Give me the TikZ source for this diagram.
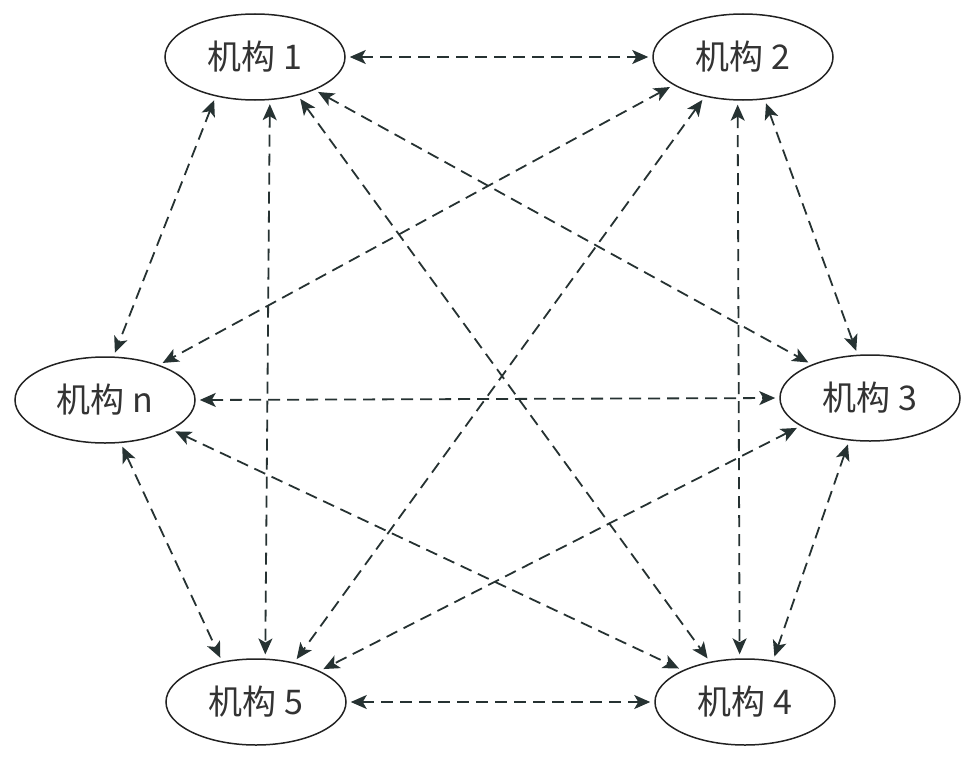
\documentclass[tikz,border=0pt]{standalone}
\usepackage{fontspec}
\setmainfont{Noto Sans CJK SC}
\usetikzlibrary{arrows.meta,shapes.geometric}
\definecolor{cK}{HTML}{222222}
\definecolor{cL}{HTML}{263232}
\definecolor{cT}{HTML}{333333}
\tikzset{
  org/.style={ellipse,draw=cK,line width=1.5pt,minimum width=180pt,
              minimum height=86pt,inner sep=0pt,text=cT,
              font=\fontsize{34}{40}\selectfont},
  link/.style={{Stealth[length=16pt,width=14pt,inset=4pt]}-{Stealth[length=16pt,width=14pt,inset=4pt]},
               cL,line width=1.8pt,dash pattern=on 12pt off 7pt,
               shorten <=4pt,shorten >=4pt},
}

\begin{document}
\begin{tikzpicture}[x=1pt,y=1pt]
  \useasboundingbox (0,0) rectangle (976,-760);
  \node[org] (j1) at (255,-57) {机构 1};
  \node[org] (j2) at (743,-57) {机构 2};
  \node[org] (jn) at (105,-400) {机构 n};
  \node[org] (j3) at (870,-398) {机构 3};
  \node[org] (j5) at (256,-702) {机构 5};
  \node[org] (j4) at (745,-702) {机构 4};
  % every pair, both ways
  \foreach \a/\p/\b/\q in {j1/0/j2/180, j1/-135/jn/79, j1/-71/j5/78,
      j1/-42/j4/131, j1/-29/j3/150, j2/-158/jn/33, j2/-134/j5/46,
      j2/-97/j4/97, j2/-63/j3/106, jn/0/j3/180, jn/-70/j5/130,
      jn/-24/j4/153, j3/-158/j5/26, j3/-116/j4/56, j5/0/j4/180}
    \draw[link] (\a.\p) -- (\b.\q);
\end{tikzpicture}
\end{document}
